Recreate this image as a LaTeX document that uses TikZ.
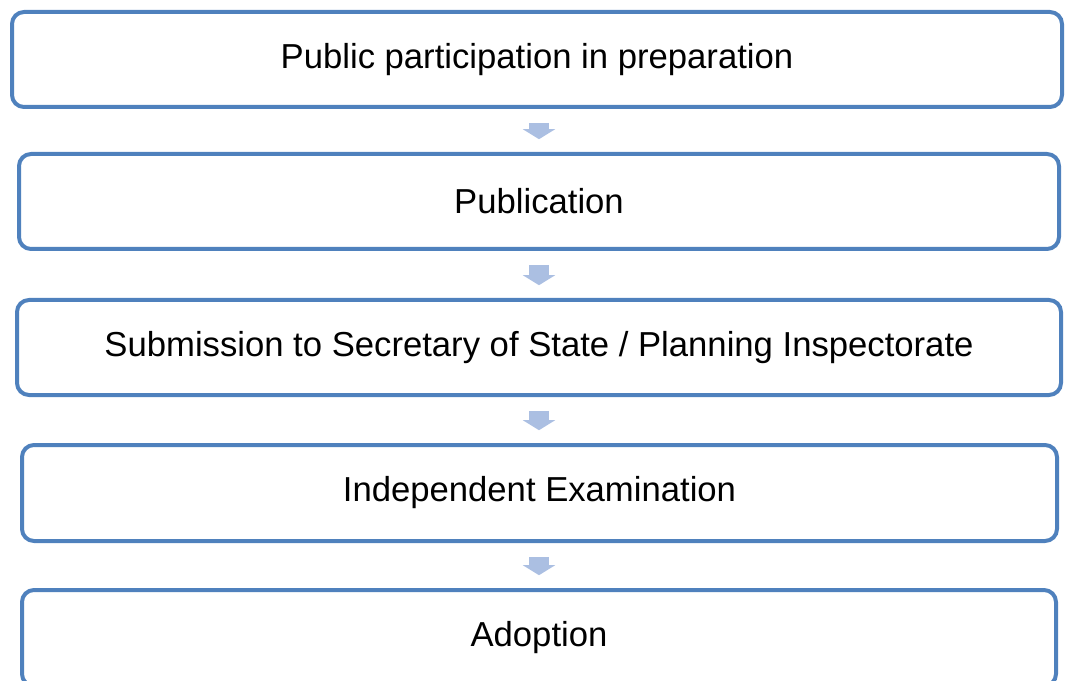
\documentclass[tikz,border=0pt]{standalone}
\usepackage{fontspec}
\setmainfont{Liberation Sans}
\usepackage{xcolor}
\definecolor{stageBorder}{HTML}{4F81BD}
\definecolor{stageArrow}{HTML}{ABBFE2}
\definecolor{stageText}{HTML}{000000}
\usepackage{tikz}
\usetikzlibrary{arrows.meta,calc}
\tikzset{
    stage/.style={
        draw=stageBorder,
        fill=white,
        rectangle,
        rounded corners=9pt,
        line width=3pt,
        align=center,
        minimum height=71.25pt,
        text=stageText,
        font=\fontsize{26}{30}\selectfont
    },
    flow/.style={
        -{Triangle[width=24pt,length=7.5pt]},
        line width=14.5pt,
        color=stageArrow,
        shorten <=10.4pt,
        shorten >=9.6pt
    }
}
\begin{document}
\begin{tikzpicture}[x=0.75pt,y=-0.75pt]
    \useasboundingbox (0,0) rectangle (1065,681);
    \node[stage, minimum width=787.5pt] (prep) at (537,59.5) {Public participation in preparation};
    \node[stage, minimum width=780pt] (publ) at (539,201.5) {Publication};
    \node[stage, minimum width=783pt] (subm) at (539,347.5) {Submission to Secretary of State / Planning Inspectorate};
    \node[stage, minimum width=776.25pt, minimum height=72pt] (exam) at (539.5,493) {Independent Examination};
    \node[stage, minimum width=775.5pt, minimum height=72pt] (adop) at (539,638) {Adoption};

    \draw[flow] (prep.south -| publ.north) -- (publ.north);
    \draw[flow] (publ.south) -- (subm.north);
    \draw[flow] (subm.south) -- (subm.south |- exam.north);
    \draw[flow] (exam.south -| adop.north) -- (adop.north);
\end{tikzpicture}
\end{document}
